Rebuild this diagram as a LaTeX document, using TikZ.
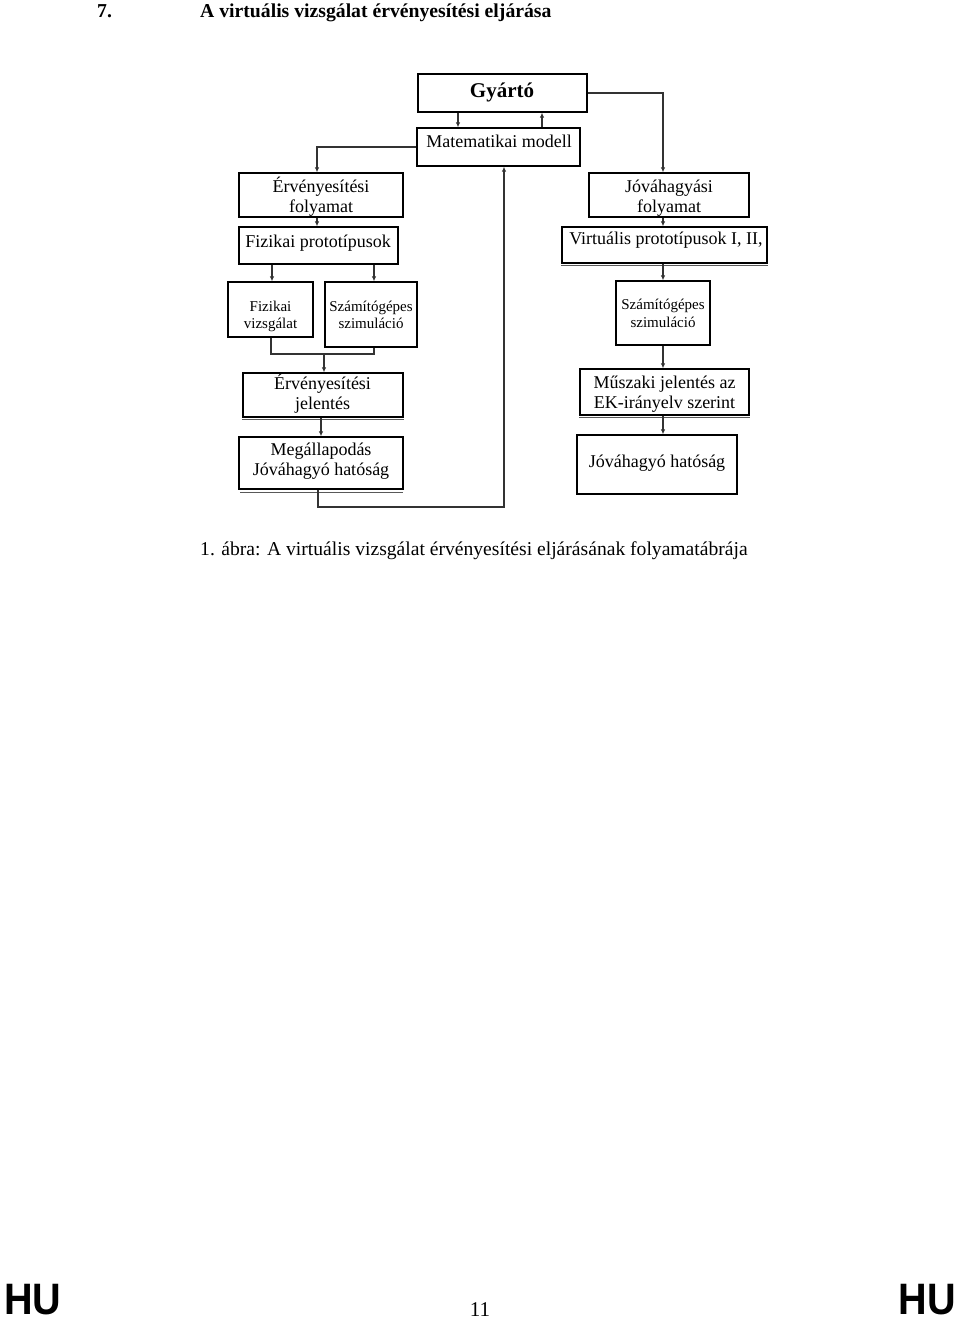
\documentclass[tikz,border=0pt]{standalone}
\usepackage{fontspec}
\setmainfont{Liberation Serif}
\newfontfamily\husans{Liberation Sans}
\usetikzlibrary{arrows.meta}
\begin{document}
\begin{tikzpicture}[x=1pt,y=-1pt,
  box/.style={draw=black, line width=1.3pt, inner sep=0pt},
  txt/.style={anchor=base, inner sep=0pt, font=\fontsize{18}{20}\selectfont},
  stxt/.style={anchor=base, inner sep=0pt, font=\fontsize{15}{17}\selectfont},
  conn/.style={draw=black!80, line width=1.2pt},
  arr/.style={conn, -{Latex[length=5pt,width=4.5pt]}},
  shadeline/.style={draw=black!65, line width=1pt},
  hutext/.style={inner sep=0pt, text depth=0pt, xscale=0.9, font=\husans\bfseries\fontsize{44}{44}\selectfont}]
\fill[white] (0,0) rectangle (960,1320);
\useasboundingbox (0,0) rectangle (960,1320);

% header
\node[anchor=base west, inner sep=0pt, font=\bfseries\fontsize{19.7}{22}\selectfont] (num) at (97,17) {7.};
\node[anchor=base west, inner sep=0pt, font=\bfseries\fontsize{19.7}{22}\selectfont] (title) at (200,17) {A virtuális vizsgálat érvényesítési eljárása};

% boxes
\node[box, minimum width=169pt, minimum height=38pt] (gy) at (502.5,93) {};
\node[box, minimum width=163pt, minimum height=38pt] (mat) at (498.5,147) {};
\node[box, minimum width=164pt, minimum height=44pt] (ervf) at (321,195) {};
\node[box, minimum width=159pt, minimum height=37pt] (fizp) at (318.5,245.5) {};
\node[box, minimum width=160pt, minimum height=44pt] (jovf) at (669,195) {};
\node[box, minimum width=205pt, minimum height=36pt] (virt) at (664.5,245) {};
\node[box, minimum width=85pt, minimum height=55pt] (fizv) at (270.5,309.5) {};
\node[box, minimum width=92pt, minimum height=65pt] (szl) at (371,314.5) {};
\node[box, minimum width=94pt, minimum height=64pt] (szr) at (663,313) {};
\node[box, minimum width=160pt, minimum height=44pt] (ervj) at (323,395) {};
\node[box, minimum width=164pt, minimum height=52pt] (megall) at (321,463) {};
\node[box, minimum width=169pt, minimum height=46pt] (musz) at (664.5,392) {};
\node[box, minimum width=160pt, minimum height=59pt] (jovh) at (657,464.5) {};

% shadow lines under some boxes
\draw[shadeline] ([yshift=-2pt]virt.south west) -- ([yshift=-2pt]virt.south east);
\draw[shadeline] ([yshift=-2pt]ervj.south west) -- ([yshift=-2pt]ervj.south east);
\draw[shadeline] ([xshift=2pt,yshift=-2.5pt]megall.south west) -- ([xshift=-1pt,yshift=-2.5pt]megall.south east);
\draw[shadeline] ([yshift=-2pt]musz.south west) -- ([yshift=-2pt]musz.south east);

% texts
\node[txt, font=\bfseries\fontsize{21}{24}\selectfont] (gyt) at (502,97) {Gyártó};
\node[txt] (matt) at (499,147) {Matematikai modell};
\node[txt] (ervfa) at (321,192) {Érvényesítési};
\node[txt] (ervfb) at (321,212) {folyamat};
\node[txt] (fizpt) at (318,247) {Fizikai prototípusok};
\node[txt] (jovfa) at (669,192) {Jóváhagyási};
\node[txt] (jovfb) at (669,212) {folyamat};
\node[txt] (virtt) at (666,244) {Virtuális prototípusok I, II,};
\node[stxt] (fizva) at (270.5,311) {Fizikai};
\node[stxt] (fizvb) at (270.5,328) {vizsgálat};
\node[stxt] (szla) at (371,311) {Számítógépes};
\node[stxt] (szlb) at (371,328) {szimuláció};
\node[stxt] (szra) at (663,309) {Számítógépes};
\node[stxt] (szrb) at (663,327) {szimuláció};
\node[txt] (ervja) at (322.5,389) {Érvényesítési};
\node[txt] (ervjb) at (322.5,409) {jelentés};
\node[txt] (megalla) at (321,455) {Megállapodás};
\node[txt] (megallb) at (321,475) {Jóváhagyó hatóság};
\node[txt] (musza) at (664.5,388) {Műszaki jelentés az};
\node[txt] (muszb) at (664.5,408) {EK-irányelv szerint};
\node[txt] (jovht) at (657,467) {Jóváhagyó hatóság};

% connectors
\draw[arr] ([xshift=-44.5pt]gy.south) -- ([xshift=-44.5pt]gy.south |- mat.north);
\draw[arr] ([xshift=43.5pt]mat.north) -- ([xshift=43.5pt]mat.north |- gy.south);
\draw[arr] (mat.west) -| ([xshift=-4pt]ervf.north);
\draw[arr] (gy.east) -| ([xshift=-6pt]jovf.north);
\draw[arr] ([xshift=-4pt]ervf.south) -- ([xshift=-4pt]ervf.south |- fizp.north);
\draw[arr] ([xshift=-6pt]jovf.south) -- ([xshift=-6pt]jovf.south |- virt.north);
\draw[arr] ([xshift=1.5pt]fizv.north |- fizp.south) -- ([xshift=1.5pt]fizv.north);
\draw[arr] ([xshift=3pt]szl.north |- fizp.south) -- ([xshift=3pt]szl.north);
\coordinate (mrg) at (324,354);
\draw[conn] ([xshift=0.5pt]fizv.south) |- (mrg) -| ([xshift=3pt]szl.south);
\draw[arr] (mrg) -- (mrg |- ervj.north);
\draw[arr] ([xshift=-2pt]ervj.south) -- ([xshift=-2pt]ervj.south |- megall.north);
\draw[arr] (szr.north |- virt.south) -- (szr.north);
\draw[arr] (szr.south) -- (szr.south |- musz.north);
\draw[arr] (szr.south |- musz.south) -- (szr.south |- jovh.north);
\coordinate (lp) at (504,507);
\draw[arr] ([xshift=-3pt]megall.south) |- (lp) -- (lp |- mat.south);

% caption
\node[anchor=base west, inner sep=0pt, font=\fontsize{19.6}{22}\selectfont] (cap) at (200,555) {1. ábra: A virtuális vizsgálat érvényesítési eljárásának folyamatábrája};

% footer
\node[hutext, anchor=base west] (hul) at (4,1314) {HU};
\node[hutext, anchor=base east] (hur) at (956,1314) {HU};
\node[anchor=base, inner sep=0pt, font=\fontsize{21}{24}\selectfont] (page) at (480,1316) {11};
\end{tikzpicture}
\end{document}
